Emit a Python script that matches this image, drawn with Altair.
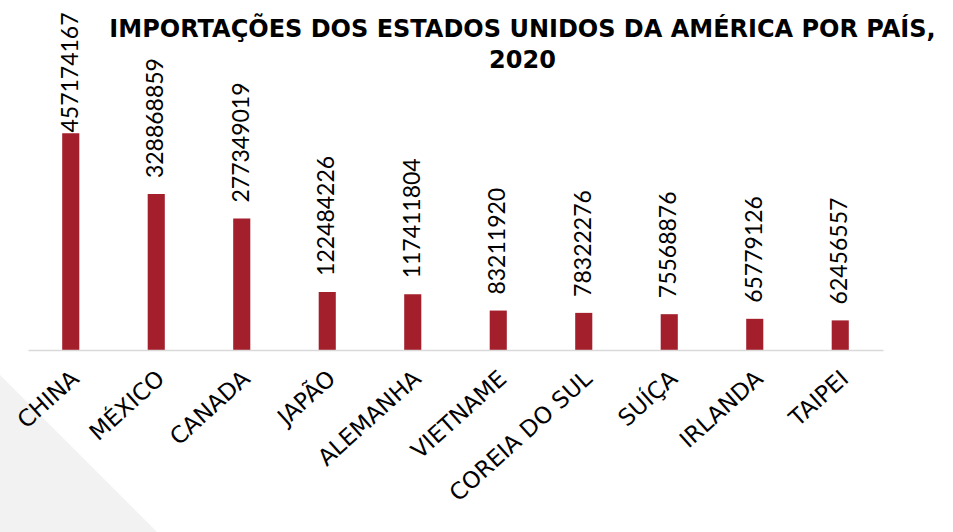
import altair as alt
import pandas as pd

countries = ["CHINA", "MÉXICO", "CANADA", "JAPÃO", "ALEMANHA", "VIETNAME",
             "COREIA DO SUL", "SUÍÇA", "IRLANDA", "TAIPEI"]
values = [457174167, 328868859, 277349019, 122484226, 117411804, 83211920,
          78322276, 75568876, 65779126, 62456557]
title_lines = ["IMPORTAÇÕES DOS ESTADOS UNIDOS DA AMÉRICA POR PAÍS,", "2020"]

df = pd.DataFrame({"pais": countries, "valor": values})

BAR = "#A31F2C"

x_enc = alt.X(
    "pais:N", sort=countries,
    scale=alt.Scale(paddingInner=0.8, paddingOuter=0.4),
    axis=alt.Axis(title=None, labelAngle=-42, labelAlign="right",
                  labelBaseline="middle", labelPadding=25, labelOffset=5,
                  labelFont="DejaVu Sans", labelFontSize=23,
                  labelColor="#000000", labelLimit=400, ticks=False,
                  domainColor="#D9D9D9", domainWidth=1.5, zindex=1),
)
y_scale = alt.Scale(domain=[0, 500000000])

# decorative grey corner triangle (background)
tri = alt.Chart(pd.DataFrame({"d": [0]})).mark_point(
    shape="M-1,-1L-1,1L1,1Z", filled=True, color="#F2F2F2", opacity=1,
    size=157 * 157, strokeWidth=0,
).encode(x=alt.value(50.5), y=alt.value(340.5))

base = alt.Chart(df)
bars = base.mark_bar(color=BAR).encode(
    x=x_enc,
    y=alt.Y("valor:Q", scale=y_scale, axis=None),
)
labels = base.transform_calculate(
    pos="min(datum.valor, 425000000)"
).mark_text(
    angle=270, align="left", baseline="middle", dx=16,
    font="Lato", fontSize=23, color="#000000",
).encode(
    x=alt.X("pais:N", sort=countries),
    y=alt.Y("pos:Q", scale=y_scale, axis=None),
    text=alt.Text("valor:Q", format="d"),
)

chart = alt.layer(tri, bars, labels).properties(
    width=855, height=237,
    autosize=alt.AutoSizeParams(type="none"),
    padding={"left": 28, "top": 113, "right": 70, "bottom": 182},
    title=alt.TitleParams(
        text=title_lines, font="DejaVu Sans", fontSize=24, fontWeight="bold",
        color="#000000", anchor="middle", frame="group", dx=67, offset=-61,
        lineHeight=31,
    ),
).configure(background="#FFFFFF", view=alt.ViewConfig(stroke=None))

chart.save("out.html", embed_options={"renderer": "svg", "actions": False})
